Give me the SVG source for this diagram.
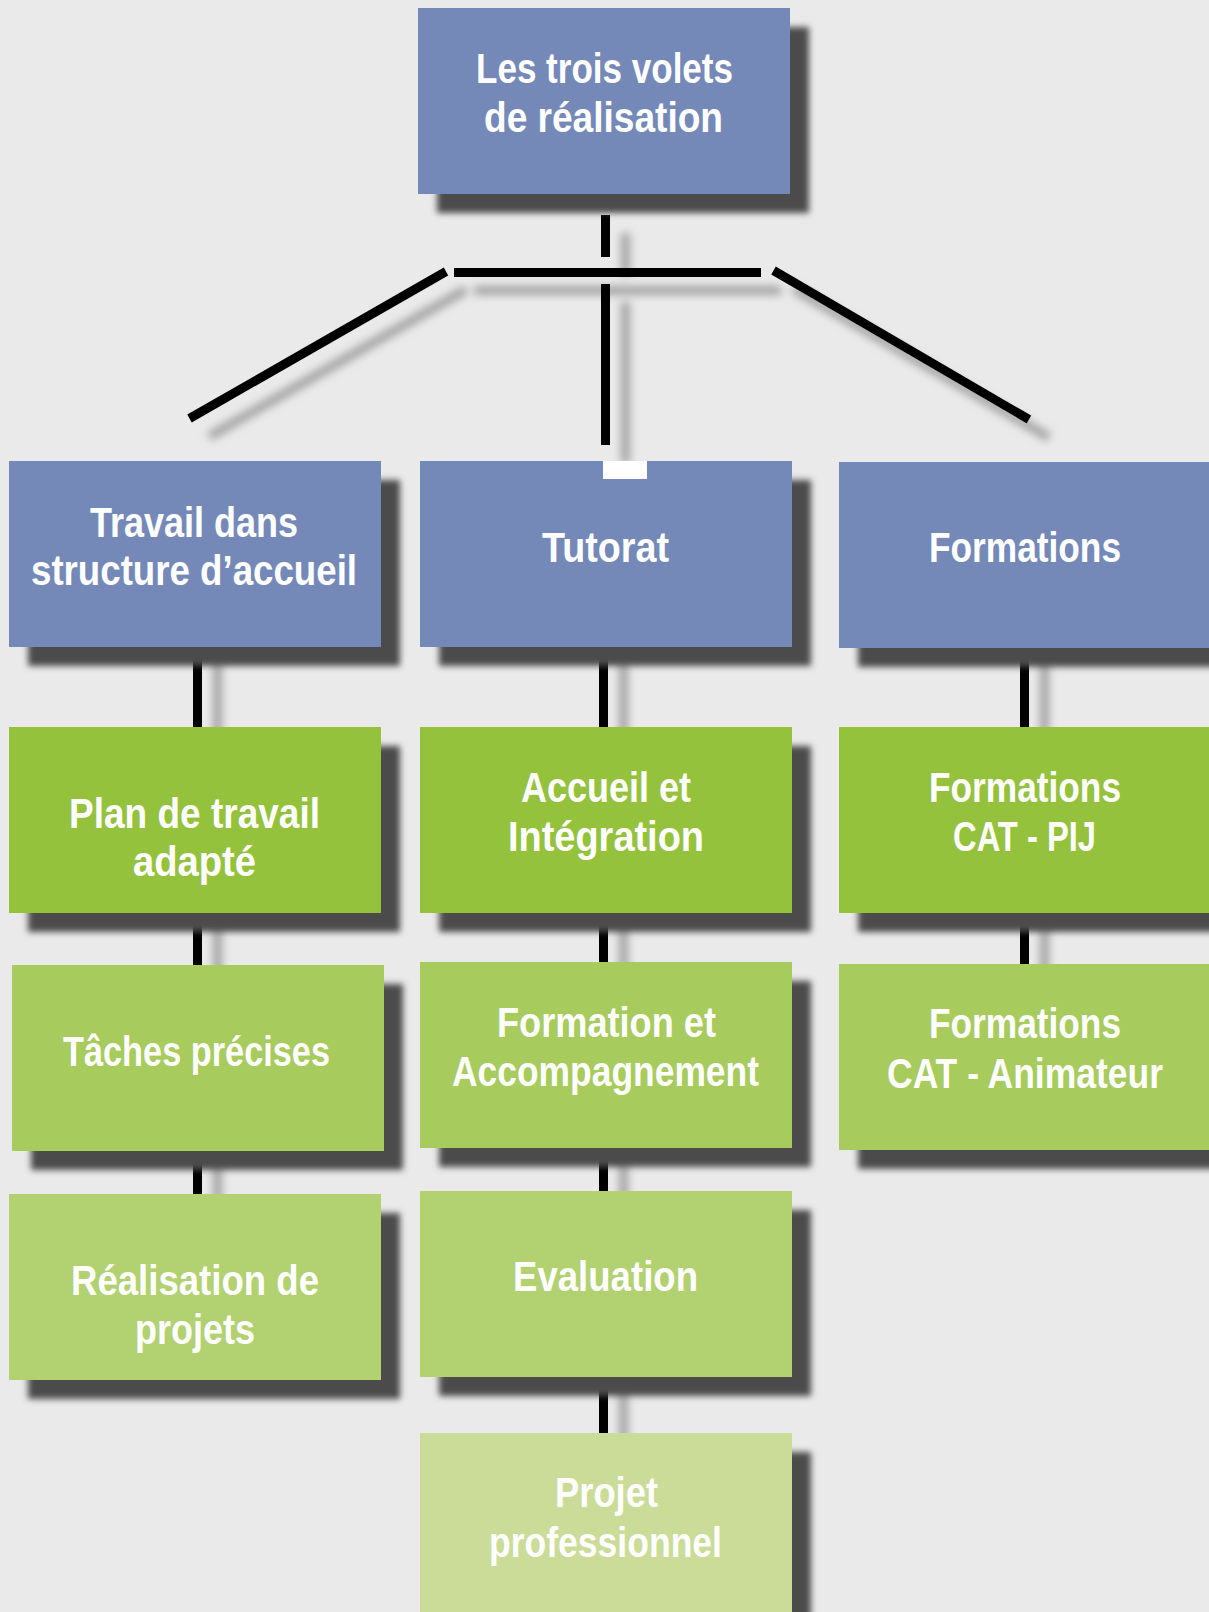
<svg xmlns="http://www.w3.org/2000/svg" width="1209" height="1612" viewBox="0 0 1209 1612">
<defs>
<filter id="boxShadow" x="-10%" y="-10%" width="125%" height="130%">
<feGaussianBlur in="SourceAlpha" stdDeviation="3" result="b"/>
<feOffset in="b" dx="19" dy="19" result="o"/>
<feFlood flood-color="#4b4b4b"/>
<feComposite in2="o" operator="in" result="s"/>
<feMerge><feMergeNode in="s"/><feMergeNode in="SourceGraphic"/></feMerge>
</filter>
<filter id="lineShadow" x="-20%" y="-20%" width="150%" height="150%">
<feDropShadow dx="20" dy="18" stdDeviation="4" flood-color="#8a8a8a" flood-opacity="0.75"/>
</filter>
</defs>
<style>
.box{filter:url(#boxShadow);}
.blue{fill:#7589b8;}
.g1{fill:#95c23e;}
.g2{fill:#a7cb5d;}
.g3{fill:#b2d171;}
.g4{fill:#cadc98;}
.t{font-family:"Liberation Sans",Arial,sans-serif;font-weight:bold;font-size:42px;fill:#ffffff;text-anchor:middle;}
.ln{stroke:#000000;stroke-width:9;fill:none;stroke-linecap:butt;}
</style>
<rect x="0" y="0" width="1209" height="1612" fill="#eaeaea"/>

<g id="connectors" filter="url(#lineShadow)">
<line class="ln" x1="605.5" y1="215" x2="605.5" y2="257"/>
<line class="ln" x1="454" y1="272.5" x2="761" y2="272.5"/>
<line class="ln" x1="605.5" y1="284" x2="605.5" y2="445"/>
<line class="ln" x1="189.5" y1="418.5" x2="446" y2="271.5"/>
<line class="ln" x1="773.5" y1="270.5" x2="1029" y2="419.5"/>
<line class="ln" x1="197.5" y1="640" x2="197.5" y2="730"/>
<line class="ln" x1="197.5" y1="905" x2="197.5" y2="968"/>
<line class="ln" x1="197.5" y1="1145" x2="197.5" y2="1197"/>
<line class="ln" x1="603.5" y1="640" x2="603.5" y2="730"/>
<line class="ln" x1="603.5" y1="905" x2="603.5" y2="965"/>
<line class="ln" x1="603.5" y1="1140" x2="603.5" y2="1194"/>
<line class="ln" x1="603.5" y1="1370" x2="603.5" y2="1436"/>
<line class="ln" x1="1024.5" y1="640" x2="1024.5" y2="730"/>
<line class="ln" x1="1024.5" y1="905" x2="1024.5" y2="967"/>
</g>

<g id="n-top">
<rect class="box blue" x="418" y="8" width="372" height="186"/>
<text class="t" x="604.5" y="83" textLength="257" lengthAdjust="spacingAndGlyphs">Les trois volets</text>
<text class="t" x="603.5" y="132" textLength="239" lengthAdjust="spacingAndGlyphs">de réalisation</text>
</g>

<g id="n-travail">
<rect class="box blue" x="9" y="461" width="372" height="186"/>
<text class="t" x="194" y="537" textLength="208" lengthAdjust="spacingAndGlyphs">Travail dans</text>
<text class="t" x="194" y="585" textLength="326" lengthAdjust="spacingAndGlyphs">structure d’accueil</text>
</g>

<g id="n-tutorat">
<rect class="box blue" x="420" y="461" width="372" height="186"/>
<text class="t" x="605.5" y="562" textLength="127" lengthAdjust="spacingAndGlyphs">Tutorat</text>
</g>
<rect x="603" y="461" width="44" height="18" fill="#ffffff"/>

<g id="n-formations">
<rect class="box blue" x="839" y="462" width="370" height="186"/>
<text class="t" x="1025" y="562" textLength="192" lengthAdjust="spacingAndGlyphs">Formations</text>
</g>

<g id="n-plan">
<rect class="box g1" x="9" y="727" width="372" height="186"/>
<text class="t" x="194.5" y="828" textLength="251" lengthAdjust="spacingAndGlyphs">Plan de travail</text>
<text class="t" x="194.5" y="876" textLength="123" lengthAdjust="spacingAndGlyphs">adapté</text>
</g>

<g id="n-accueil">
<rect class="box g1" x="420" y="727" width="372" height="186"/>
<text class="t" x="606" y="802" textLength="170" lengthAdjust="spacingAndGlyphs">Accueil et</text>
<text class="t" x="606" y="851" textLength="196" lengthAdjust="spacingAndGlyphs">Intégration</text>
</g>

<g id="n-catpij">
<rect class="box g1" x="839" y="727" width="370" height="186"/>
<text class="t" x="1025" y="802" textLength="192" lengthAdjust="spacingAndGlyphs">Formations</text>
<text class="t" x="1024.5" y="851" textLength="143" lengthAdjust="spacingAndGlyphs">CAT - PIJ</text>
</g>

<g id="n-taches">
<rect class="box g2" x="12" y="965" width="372" height="186"/>
<text class="t" x="196.5" y="1066" textLength="267" lengthAdjust="spacingAndGlyphs">Tâches précises</text>
</g>

<g id="n-formacc">
<rect class="box g2" x="420" y="962" width="372" height="186"/>
<text class="t" x="606.5" y="1037" textLength="219" lengthAdjust="spacingAndGlyphs">Formation et</text>
<text class="t" x="605.5" y="1086" textLength="307" lengthAdjust="spacingAndGlyphs">Accompagnement</text>
</g>

<g id="n-animateur">
<rect class="box g2" x="839" y="964" width="370" height="186"/>
<text class="t" x="1025" y="1038" textLength="192" lengthAdjust="spacingAndGlyphs">Formations</text>
<text class="t" x="1025" y="1088" textLength="276" lengthAdjust="spacingAndGlyphs">CAT - Animateur</text>
</g>

<g id="n-realisation">
<rect class="box g3" x="9" y="1194" width="372" height="186"/>
<text class="t" x="195" y="1295" textLength="248" lengthAdjust="spacingAndGlyphs">Réalisation de</text>
<text class="t" x="195" y="1344" textLength="120" lengthAdjust="spacingAndGlyphs">projets</text>
</g>

<g id="n-evaluation">
<rect class="box g3" x="420" y="1191" width="372" height="186"/>
<text class="t" x="605.5" y="1291" textLength="185" lengthAdjust="spacingAndGlyphs">Evaluation</text>
</g>

<g id="n-projet">
<rect class="box g4" x="420" y="1433" width="372" height="186"/>
<text class="t" x="606.5" y="1507" textLength="103" lengthAdjust="spacingAndGlyphs">Projet</text>
<text class="t" x="605.5" y="1557" textLength="233" lengthAdjust="spacingAndGlyphs">professionnel</text>
</g>
</svg>
